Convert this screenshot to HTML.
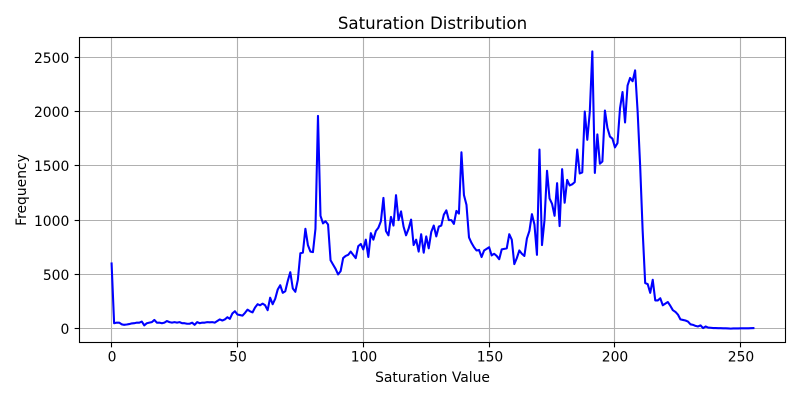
<!DOCTYPE html>
<html>
<head>
<meta charset="utf-8">
<title>Saturation Distribution</title>
<style>
html,body{margin:0;padding:0;background:#fff;width:800px;height:400px;overflow:hidden}
svg{display:block}
text{font-family:"DejaVu Sans","Liberation Sans",sans-serif;fill:#000}
</style>
</head>
<body>
<svg id="chart" xmlns="http://www.w3.org/2000/svg" width="800" height="400" viewBox="0 0 800 400"></svg>
<script>
const chartTitle = "Saturation Distribution";
const xAxisTitle = "Saturation Value";
const yAxisTitle = "Frequency";
const xTickLabels = [0, 50, 100, 150, 200, 250];
const yTickLabels = [0, 500, 1000, 1500, 2000, 2500];
const frequencies = [
600,50,55,55,40,35,38,42,48,50,55,55,65,30,50,55,60,80,55,55,
50,55,70,60,55,60,55,60,50,50,45,45,55,35,60,50,55,55,60,58,
60,55,70,85,75,85,105,90,140,160,130,125,120,145,175,160,150,195,225,215,
230,215,170,285,225,275,360,400,330,345,440,520,370,340,450,695,700,920,770,710,
705,920,1960,1040,970,990,960,630,590,550,500,530,650,670,680,710,680,650,760,780,
730,820,660,880,820,900,930,990,1205,900,860,1030,950,1230,1000,1080,940,860,920,1005,
770,820,710,870,700,850,740,890,950,850,940,950,1050,1090,1000,1000,965,1085,1060,1625,
1230,1140,840,790,750,720,725,660,720,735,750,675,690,670,640,730,735,740,870,820,
595,650,720,690,670,830,900,1055,960,680,1650,770,1000,1455,1200,1150,1040,1340,945,1470,
1160,1370,1320,1330,1350,1650,1430,1440,2000,1740,2000,2555,1435,1790,1520,1540,2010,1850,1770,1750,
1670,1710,2030,2180,1900,2240,2310,2280,2380,2000,1500,900,420,410,330,450,260,260,280,215,
230,245,210,170,155,130,85,80,75,65,40,35,25,20,30,5,20,10,8,5,
5,4,4,3,3,2,0,2,2,2,3,3,3,3,4,5
];

const NS = "http://www.w3.org/2000/svg";
const svg = document.getElementById("chart");
const plot = {left: 79.5, right: 785.5, top: 37.5, bottom: 342.5};

const xMax = frequencies.length - 1;
const xPad = xMax * 0.05;
const yHigh = Math.max.apply(null, frequencies);
const yLow = Math.min.apply(null, frequencies);
const yPad = (yHigh - yLow) * 0.05;

function xScale(v) {
  return plot.left + (v + xPad) / (xMax + 2 * xPad) * (plot.right - plot.left);
}
function yScale(v) {
  return plot.bottom - (v - yLow + yPad) / (yHigh - yLow + 2 * yPad) * (plot.bottom - plot.top);
}
function snap(p) {
  return Math.floor(p) + 0.5;
}
function make(tag, attrs, parent) {
  const el = document.createElementNS(NS, tag);
  for (const k in attrs) el.setAttribute(k, attrs[k]);
  (parent || svg).appendChild(el);
  return el;
}

// Grid lines
xTickLabels.forEach(function (t) {
  const x = snap(xScale(t));
  const g = make("line", {x1: x, x2: x, y1: plot.top, y2: plot.bottom, stroke: "#b0b0b0", "stroke-width": 1.11});
  
  
});
yTickLabels.forEach(function (t) {
  const y = snap(yScale(t));
  const g = make("line", {x1: plot.left, x2: plot.right, y1: y, y2: y, stroke: "#b0b0b0", "stroke-width": 1.11});
  
  
});

// Series line
const points = frequencies.map(function (v, i) {
  return xScale(i).toFixed(2) + "," + yScale(v).toFixed(2);
}).join(" ");
const series = make("polyline", {points: points, fill: "none", stroke: "#0000ff", "stroke-width": 2.08, "stroke-linejoin": "round", "stroke-linecap": "square"});



// Axes frame
const frame = make("rect", {x: plot.left, y: plot.top, width: plot.right - plot.left, height: plot.bottom - plot.top, fill: "none", stroke: "#000", "stroke-width": 1.11});



// X ticks
xTickLabels.forEach(function (t) {
  const x = snap(xScale(t));
  const tick = make("line", {x1: x, x2: x, y1: plot.bottom, y2: plot.bottom + 4.86, stroke: "#000", "stroke-width": 1.11});
  
  
  const label = make("text", {x: x + 0.5, y: plot.bottom + 19, "text-anchor": "middle", "font-size": 13.89});
  label.textContent = t;
  
  
});

// Y ticks
yTickLabels.forEach(function (t) {
  const y = snap(yScale(t));
  const tick = make("line", {x1: plot.left - 4.86, x2: plot.left, y1: y, y2: y, stroke: "#000", "stroke-width": 1.11});
  
  
  const label = make("text", {x: plot.left - 10.2, y: y + 5.5, "text-anchor": "end", "font-size": 13.89});
  label.textContent = t;
  
  
});

// Titles
const titleEl = make("text", {x: (plot.left + plot.right) / 2, y: 29, "text-anchor": "middle", "font-size": 16.67});
titleEl.textContent = chartTitle;



const xTitleEl = make("text", {x: (plot.left + plot.right) / 2, y: 382, "text-anchor": "middle", "font-size": 13.89});
xTitleEl.textContent = xAxisTitle;



const yTitleEl = make("text", {x: 0, y: 0, "text-anchor": "middle", "font-size": 13.89, transform: "translate(26 " + (plot.top + plot.bottom) / 2 + ") rotate(-90)"});
yTitleEl.textContent = yAxisTitle;


</script>
</body>
</html>
